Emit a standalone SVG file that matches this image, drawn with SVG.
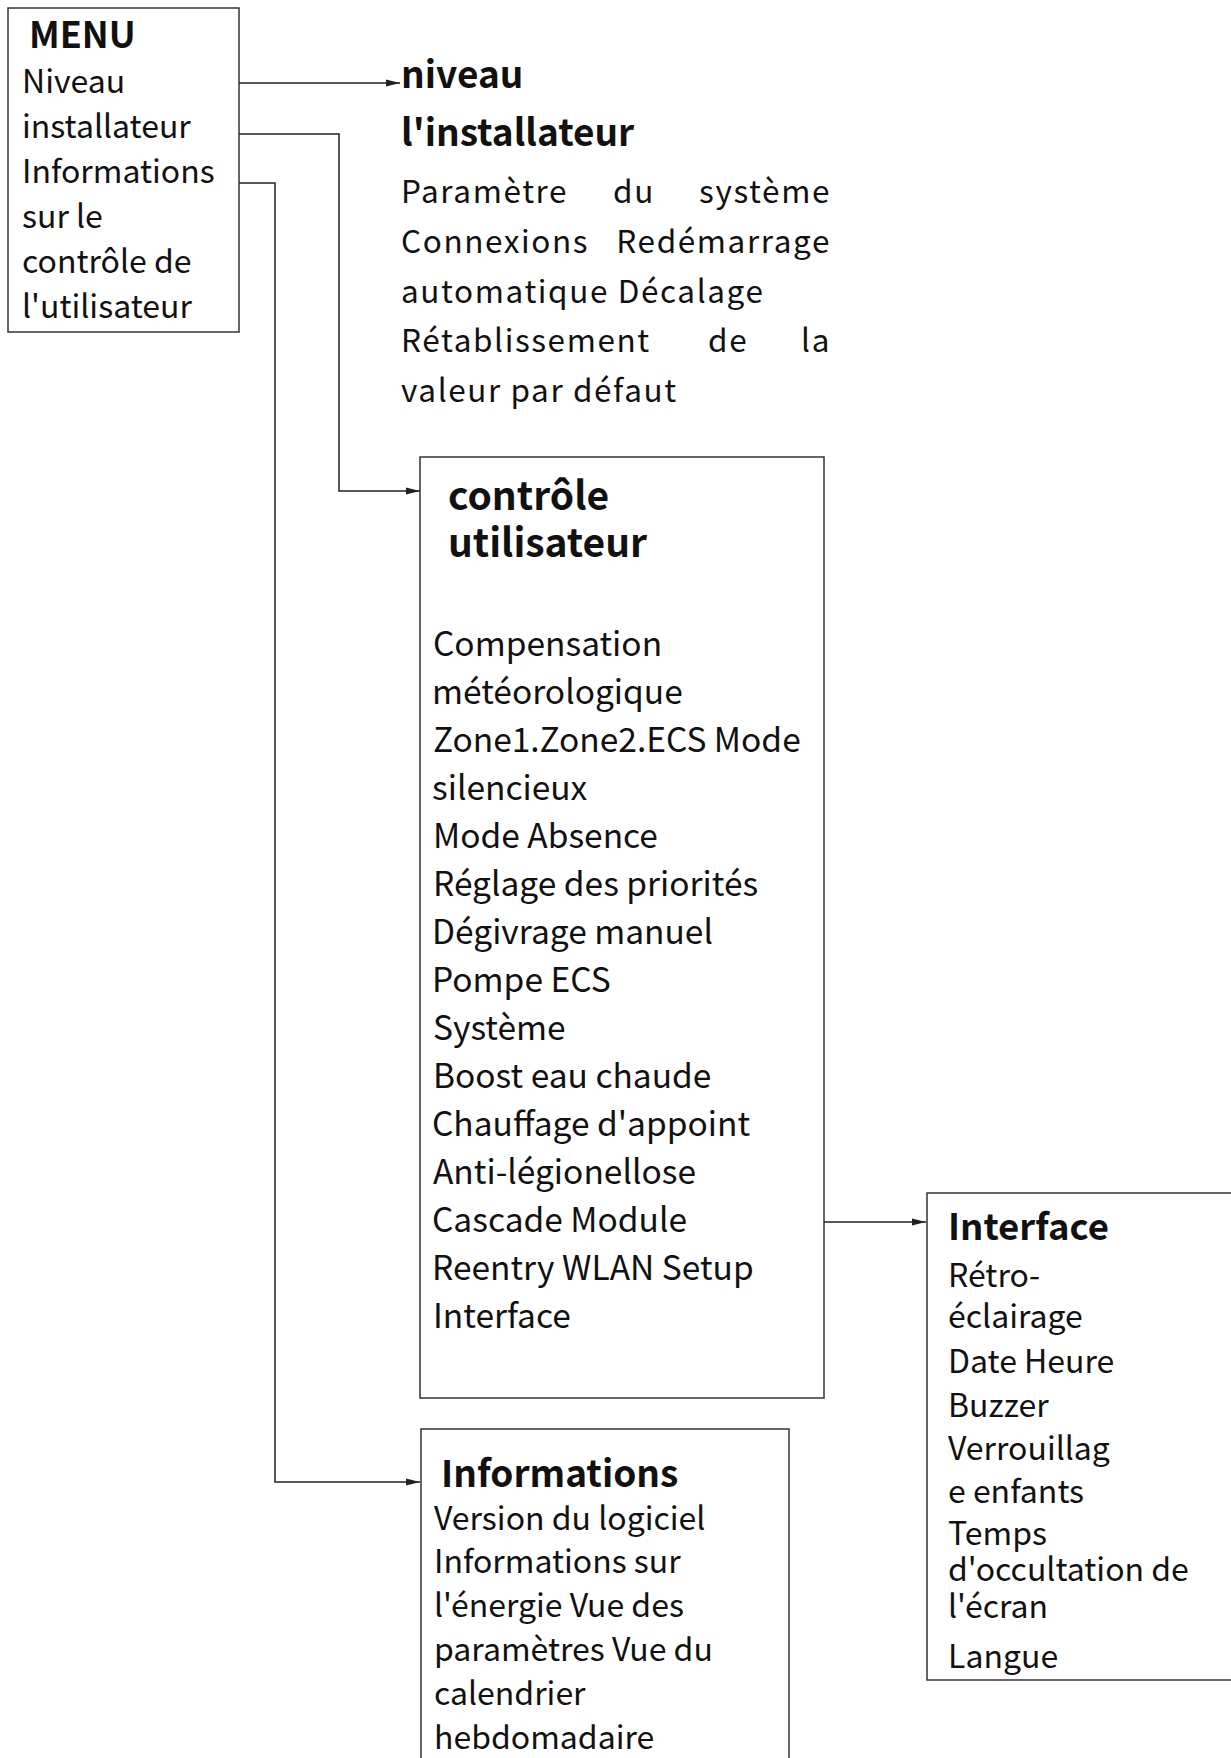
<svg xmlns="http://www.w3.org/2000/svg" width="1231" height="1758" viewBox="0 0 1231 1758">
<style>
.box{fill:#fff;stroke:#333;stroke-width:1.5}
.t{font-family:"Noto Sans CJK SC","Noto Sans",sans-serif;fill:#111}
.b{font-weight:bold}
.conn{fill:none;stroke:#222;stroke-width:1.5}
</style>
<defs>
<marker id="arr" markerWidth="14" markerHeight="8" refX="14" refY="4" orient="auto" markerUnits="userSpaceOnUse">
<path d="M0,0.5 L14,4 L0,7.5 Z" fill="#222"/>
</marker>
</defs>
<rect width="1231" height="1758" fill="#fff"/>
<g id="connectors">
<path class="conn" d="M239,83 H400" marker-end="url(#arr)"/>
<path class="conn" d="M239,134 H339 V491 H420" marker-end="url(#arr)"/>
<path class="conn" d="M239,183 H275 V1482 H420" marker-end="url(#arr)"/>
<path class="conn" d="M824,1222 H926" marker-end="url(#arr)"/>
</g>
<g id="menu">
<rect class="box" x="8" y="8" width="231" height="324"/>
<text class="t b" x="29" y="48" font-size="36">MENU</text>
<g class="t" font-size="32">
<text x="22" y="93">Niveau</text>
<text x="22" y="138">installateur</text>
<text x="22" y="183">Informations</text>
<text x="22" y="228">sur le</text>
<text x="22" y="273">contrôle de</text>
<text x="22" y="318">l'utilisateur</text>
</g>
</g>
<g id="installateur">
<text class="t b" x="401" y="88" font-size="37">niveau</text>
<text class="t b" x="401" y="146" font-size="37">l'installateur</text>
<g class="t" font-size="31.5" letter-spacing="1.6">
<text x="401" y="203">Paramètre</text>
<text x="613" y="203">du</text>
<text x="831" y="203" text-anchor="end">système</text>
<text x="401" y="253">Connexions</text>
<text x="831" y="253" text-anchor="end">Redémarrage</text>
<text x="401" y="303">automatique Décalage</text>
<text x="401" y="352">Rétablissement</text>
<text x="708" y="352">de</text>
<text x="831" y="352" text-anchor="end">la</text>
<text x="401" y="402">valeur par défaut</text>
</g>
</g>
<g id="controle">
<rect class="box" x="420" y="457" width="404" height="941"/>
<text class="t b" x="448" y="510" font-size="39">contrôle</text>
<text class="t b" x="448" y="557" font-size="39">utilisateur</text>
<g class="t" font-size="33.5">
<text x="433" y="656">Compensation</text>
<text x="432" y="704">météorologique</text>
<text x="433" y="752">Zone1.Zone2.ECS Mode</text>
<text x="432" y="800">silencieux</text>
<text x="433" y="848">Mode Absence</text>
<text x="433" y="896">Réglage des priorités</text>
<text x="432" y="944">Dégivrage manuel</text>
<text x="432" y="992">Pompe ECS</text>
<text x="433" y="1040">Système</text>
<text x="433" y="1088">Boost eau chaude</text>
<text x="432" y="1136">Chauffage d'appoint</text>
<text x="433" y="1184">Anti-légionellose</text>
<text x="432" y="1232">Cascade Module</text>
<text x="432" y="1280">Reentry WLAN Setup</text>
<text x="433" y="1328">Interface</text>
</g>
</g>
<g id="informations">
<rect class="box" x="421" y="1429" width="368" height="360"/>
<text class="t b" x="441" y="1487" font-size="37">Informations</text>
<g class="t" font-size="32">
<text x="434" y="1530">Version du logiciel</text>
<text x="434" y="1573">Informations sur</text>
<text x="434" y="1617">l'énergie Vue des</text>
<text x="434" y="1661">paramètres Vue du</text>
<text x="434" y="1705">calendrier</text>
<text x="434" y="1749">hebdomadaire</text>
</g>
</g>
<g id="interface">
<rect class="box" x="927" y="1193" width="320" height="487"/>
<text class="t b" x="948" y="1240" font-size="36.5">Interface</text>
<g class="t" font-size="32">
<text x="948" y="1287">Rétro-</text>
<text x="948" y="1328">éclairage</text>
<text x="948" y="1373">Date Heure</text>
<text x="948" y="1417">Buzzer</text>
<text x="948" y="1460">Verrouillag</text>
<text x="948" y="1503">e enfants</text>
<text x="948" y="1545">Temps</text>
<text x="948" y="1581">d'occultation de</text>
<text x="948" y="1618">l'écran</text>
<text x="948" y="1668">Langue</text>
</g>
</g>
</svg>
